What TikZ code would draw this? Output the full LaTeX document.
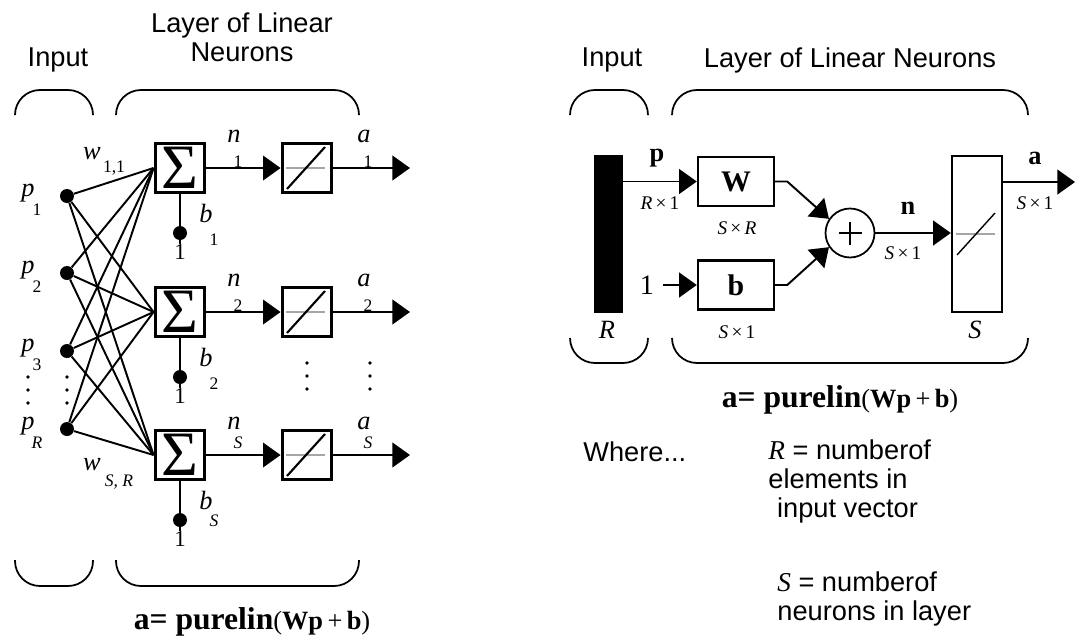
\documentclass[tikz,border=0pt]{standalone}
\usepackage{fontspec}
\setmainfont{Liberation Serif}
\setsansfont{Liberation Sans}
\usetikzlibrary{positioning, arrows.meta}

\newcommand{\fsz}[1]{\fontsize{#1}{#1}\selectfont}
\newcommand{\purelin}{{\fsz{18}a= purelin}{\fsz{15}\mdseries(\bfseries Wp\,\mdseries+\,\bfseries b\mdseries)}}

\begin{document}
\begin{tikzpicture}[
    x=0.02cm, y=-0.02cm,
    every node/.style={inner sep=0pt},
    wire/.style={line width=1.1pt},
    arr/.style={wire, -{Triangle[length=10pt, width=14pt]}},
    linsym/.style={path picture={
        \draw[gray!70, line width=#1] ([xshift=-0.42cm]path picture bounding box.center) -- ([xshift=0.36cm]path picture bounding box.center);
        \draw[line width=#1] ([shift={(-0.4cm,-0.42cm)}]path picture bounding box.center) -- ([shift={(0.36cm,0.42cm)}]path picture bounding box.center);}},
    sumbox/.style={draw, line width=2.2pt, minimum size=0.98cm, font=\fontsize{36}{36}\selectfont},
    linbox/.style={draw, line width=2.2pt, minimum size=0.98cm, linsym=1.2pt},
    jdot/.style={circle, fill, minimum size=0.28cm},
    lbl/.style={font=\fsz{15}\itshape},
    sub/.style={font=\fsz{10}},
    title/.style={font=\sffamily\fontsize{15.5}{16.5}\selectfont, align=center},
    brace/.style={line width=1pt, rounded corners=0.5cm},
    vec/.style={draw, line width=1.4pt, minimum width=1.52cm, minimum height=0.98cm, font=\bfseries\fsz{17}},
    dim/.style={font=\fsz{11}},
    bold/.style={font=\bfseries\fsz{15}}
]
\useasboundingbox (0,0) rectangle (1077,636);

% ---- layer drawn neuron by neuron
\node[title] (inL) at (58,60) {Input};
\node[title] (layL) at (242,37) {Layer of Linear\\Neurons};
\draw[brace] (15,115) -- (15,90) -- (93,90) -- (93,115);
\draw[brace] (116,115) -- (116,90) -- (359,90) -- (359,115);
\draw[brace] (15,560) -- (15,586) -- (93,586) -- (93,560);
\draw[brace] (116,560) -- (116,586) -- (359,586) -- (359,560);

\foreach \i/\y/\s in {1/196/1, 2/273/2, 3/351/3, R/429/{\textit{R}}} {
    \node[jdot] (p\i) at (67,\y) {};
    \node[lbl] at (28,\y-3) {p};
    \node[sub] at (37,\y+14) {\s};
}
\foreach \x/\y in {28/377, 67/377, 307/363, 370/363}
    \foreach \k in {0,13,26}
        \fill (\x,\y+\k) circle (1.1pt);

\foreach \i/\y/\s/\o in {1/168/1/0, 2/312/2/0, 3/455/{\textit{S}}/6} {
    \node[sumbox] (s\i) at (180,\y) {Σ};
    \node[linbox] (f\i) at (307,\y) {};
    \coordinate (o\i) at (410,\y);
    \draw[arr] (s\i) -- (f\i);
    \draw[arr] (f\i) -- (o\i);
    \node[jdot] (bd\i) at (180,\y+65) {};
    \node[font=\fsz{13}, anchor=north] (one\i) at (180,\y+76) {1};
    \draw[wire] (s\i) -- (bd\i);
    \draw[wire] (bd\i) -- (one\i);
    \node[lbl] at (234,\y-32) {n};
    \node[sub] at (238,\y-6-\o) {\s};
    \node[lbl] at (364,\y-32) {a};
    \node[sub] at (368,\y-6-\o) {\s};
    \node[lbl] at (206,\y+45) {b};
    \node[sub] at (214,\y+72-\o) {\s};
}
\foreach \i in {1,2,3,R}
    \foreach \j in {1,2,3}
        \draw[wire] (p\i) -- (s\j.west);

\node[lbl] at (92,154) {w};
\node[sub] at (114,168) {1,1};
\node[lbl] at (92,465) {w};
\node[sub, font=\fsz{10}\itshape] at (119,482) {S, R};

\node[font=\bfseries] (fL) at (252,622) {\purelin};

% ---- same layer in matrix form
\node[title] (inR) at (612,60) {Input};
\node[title] (layR) at (850,60) {Layer of Linear Neurons};
\draw[brace] (570,115) -- (570,90) -- (648,90) -- (648,115);
\draw[brace] (672,115) -- (672,90) -- (1028,90) -- (1028,115);
\draw[brace] (570,338) -- (570,363) -- (648,363) -- (648,338);
\draw[brace] (672,338) -- (672,363) -- (1028,363) -- (1028,338);

\node[fill, minimum width=0.58cm, minimum height=3.16cm] (bar) at (608.5,234) {};
\node[lbl] at (607,330) {R};
\node[vec] (W) at (736,181.5) {W};
\node[vec] (bv) at (736,285) {b};
\node[circle, draw, line width=1pt, minimum size=0.98cm,
    path picture={\draw[line width=1pt] ([xshift=-0.23cm]path picture bounding box.center) -- ([xshift=0.23cm]path picture bounding box.center);
                  \draw[line width=1pt] ([yshift=-0.23cm]path picture bounding box.center) -- ([yshift=0.23cm]path picture bounding box.center);}] (sum) at (850,233) {};
\node[draw, line width=1.4pt, minimum width=1.0cm, minimum height=3.12cm, linsym=0.8pt] (Sb) at (977,234) {};
\node[lbl] at (975,330) {S};
\node[font=\fsz{16}] (one) at (647,285) {1};
\coordinate (aout) at (1075,182);

\draw[arr] (bar.east |- W.west) -- (W.west);
\draw[arr, shorten <=5pt] (one.east) -- (bv.west);
\draw[arr] (W.east) -- ++(12,0) -- (sum.146);
\draw[arr] (bv.east) -- ++(12,0) -- (sum.214);
\draw[arr] (sum.east) -- (sum.east -| Sb.west);
\draw[arr] (Sb.east |- aout) -- (aout);

\node[bold] at (657,158) {p};
\node[dim] at (660,203) {\textit{R}\,×\,1};
\node[dim] at (737,228) {\textit{S}\,×\,\textit{R}};
\node[dim] at (737,332) {\textit{S}\,×\,1};
\node[bold] at (908,208) {n};
\node[dim] at (903,253) {\textit{S}\,×\,1};
\node[bold] at (1035,158) {a};
\node[dim] at (1035,203) {\textit{S}\,×\,1};

\node[font=\bfseries] (fR) at (840,400) {\purelin};

\node[title, anchor=west] (where) at (583,452) {Where...};
\node[title, anchor=west, align=left] (defR) at (768,481) {{\rmfamily\itshape R} = numberof\\elements in\\\hspace*{5pt}input vector};
\node[title, anchor=west, align=left] (defS) at (777,599) {{\rmfamily\itshape S} = numberof\\neurons in layer};
\end{tikzpicture}
\end{document}
